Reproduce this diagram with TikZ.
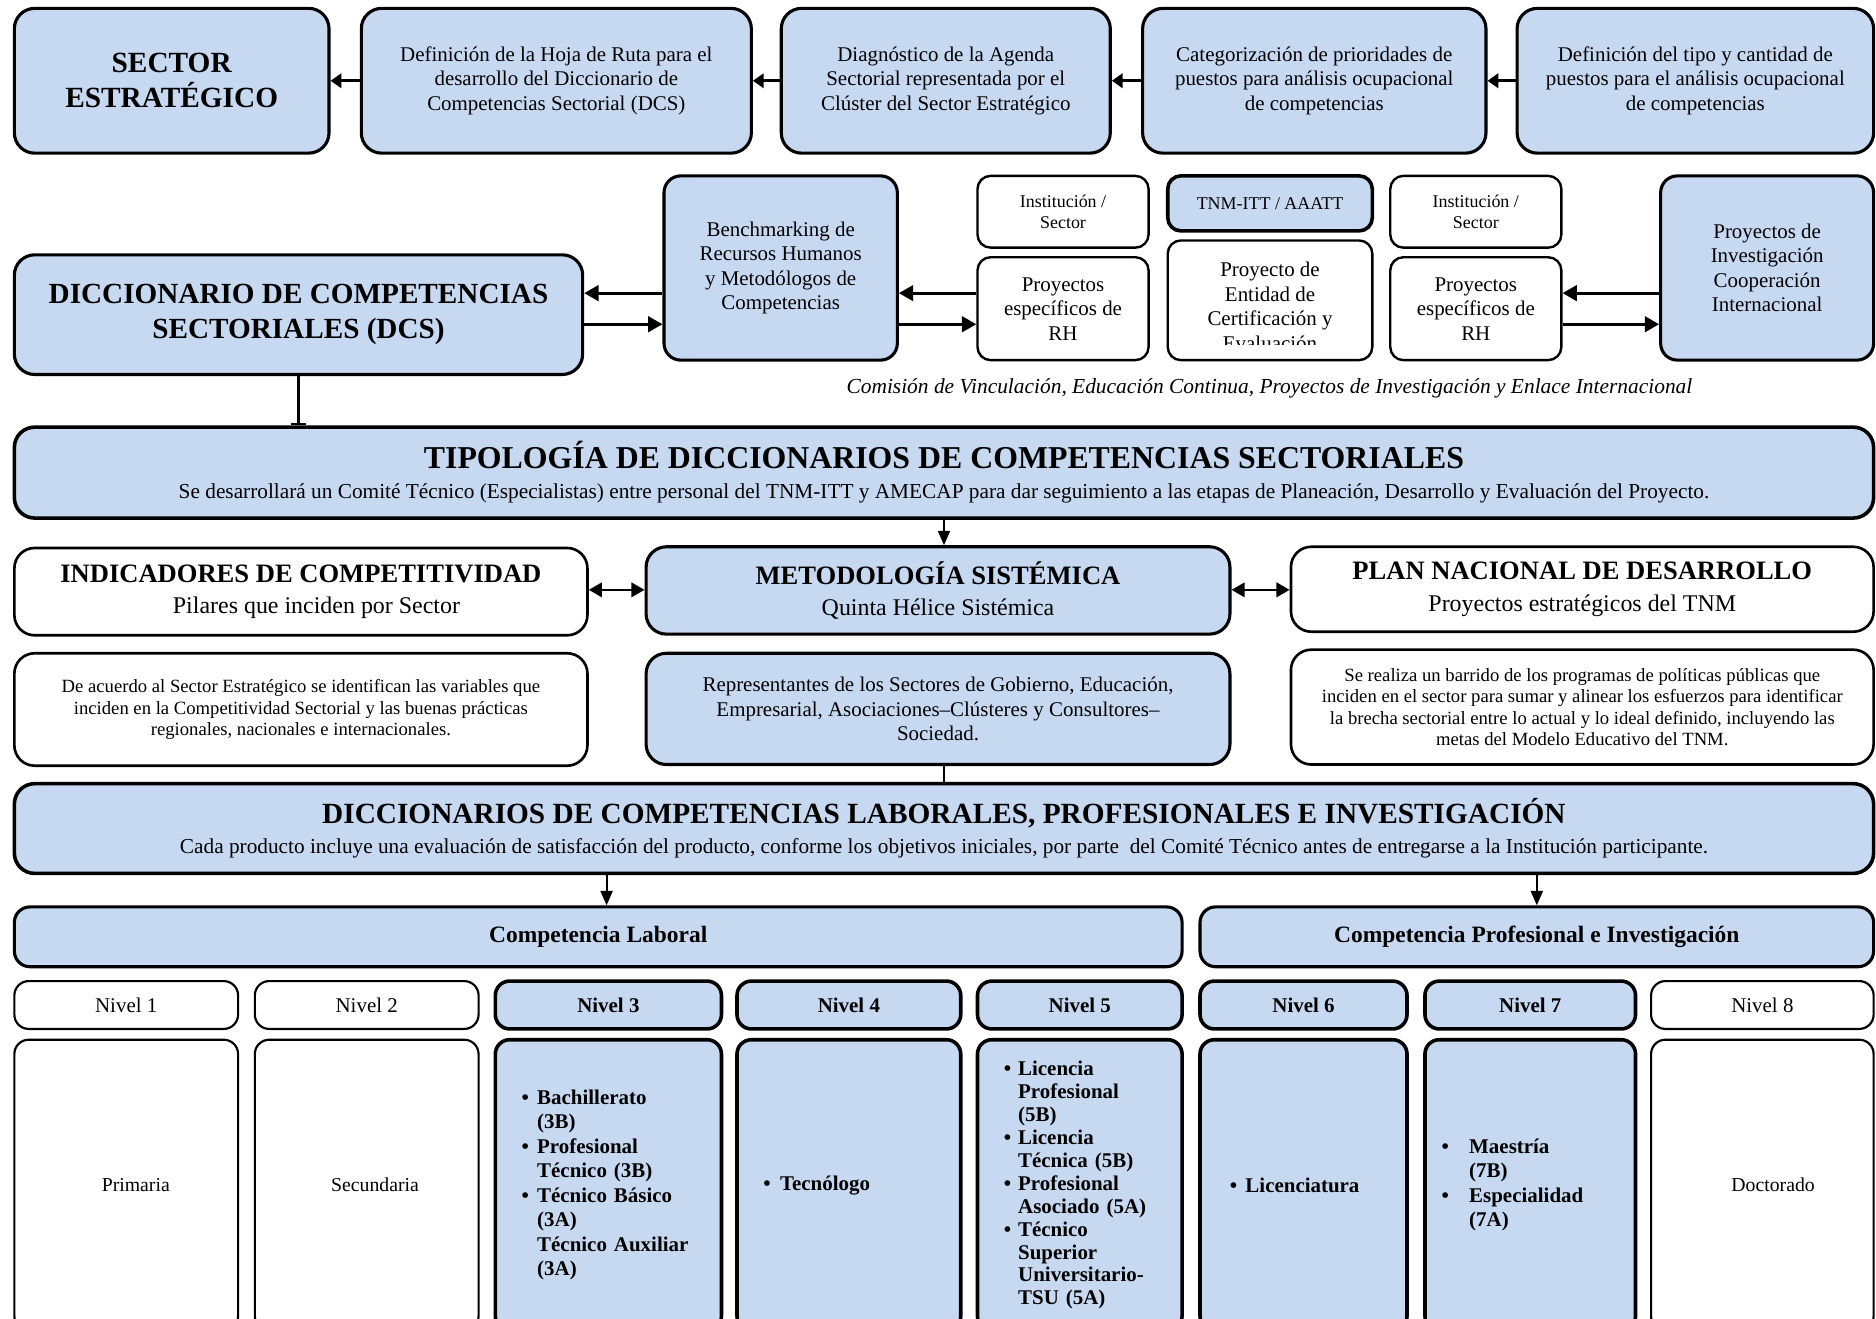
\documentclass[tikz,border=0pt]{standalone}
\usepackage{fontspec}
\setmainfont{Liberation Serif}
\usetikzlibrary{arrows.meta}
\definecolor{blu}{HTML}{C6D9F1}
\newcommand\myfs[2]{\fontsize{#1}{#2}\selectfont}
\newcommand\mkbox[7]{\node[#6, minimum width={#4-#2}, minimum height={#5-#3}] (#1) at ({(#2+#4)/2},{(#3+#5)/2}) {#7};}
\newcommand\mybl[1]{\makebox[#1][l]{\textbullet}}
\begin{document}
\begin{tikzpicture}[x=1pt,y=-1pt,
  bx/.style={draw=black, line width=2.6pt, rounded corners=17pt, fill=blu, align=center, inner sep=0pt},
  wbx/.style={bx, fill=white, line width=2.2pt},
  sbx/.style={bx, rounded corners=11pt},
  swbx/.style={wbx, rounded corners=11pt, line width=2pt},
  lvb/.style={bx, rounded corners=12pt, line width=3pt},
  lvw/.style={wbx, rounded corners=12pt, line width=1.8pt},
  body/.style={font=\myfs{17.5}{20.5}},
  bbody/.style={font=\myfs{17.5}{20.5}\bfseries},
  small/.style={font=\myfs{15}{17}},
  note/.style={font=\myfs{15.6}{18}},
  arrT/.style={line width=2.2pt, -{Triangle[length=9pt,width=12pt]}},
  arrB/.style={line width=2.4pt, -{Triangle[length=12pt,width=13pt]}},
  arrV/.style={line width=1.7pt, -{Triangle[length=12pt,width=10pt]}},
  dbl/.style={line width=2.2pt, {Triangle[length=11pt,width=12pt]}-{Triangle[length=11pt,width=12pt]}},
  plain/.style={line width=1.7pt}
]
\useasboundingbox (0,0) rectangle (1568,1102);
\clip (0,0) rectangle (1568,1102);
\fill[white] (0,0) rectangle (1568,1102);

% ---------- top row
\mkbox{sector}{12}{7}{275}{128}{bx, font=\myfs{24.5}{29}\bfseries}{SECTOR\\ESTRATÉGICO}
\mkbox{hoja}{302}{7}{628}{128}{bx, body}{Definición de la Hoja de Ruta para el\\desarrollo del Diccionario de\\Competencias Sectorial (DCS)}
\mkbox{diag}{653}{7}{928}{128}{bx, body}{Diagnóstico de la Agenda\\Sectorial representada por el\\Clúster del Sector Estratégico}
\mkbox{categ}{955}{7}{1242}{128}{bx, body}{Categorización de prioridades de\\puestos para análisis ocupacional\\de competencias}
\mkbox{defin}{1268}{7}{1566}{128}{bx, body}{Definición del tipo y cantidad de\\puestos para el análisis ocupacional\\de competencias}

\draw[arrT] (hoja) -- (sector);
\draw[arrT] (diag) -- (hoja);
\draw[arrT] (categ) -- (diag);
\draw[arrT] (defin) -- (categ);

% ---------- second row
\mkbox{dcs}{12}{213}{487}{313}{bx, font=\myfs{24.4}{29}\bfseries}{DICCIONARIO DE COMPETENCIAS\\SECTORIALES (DCS)}
\mkbox{bench}{555}{147}{750}{301}{bx, rounded corners=14pt, body}{Benchmarking de\\Recursos Humanos\\y Metodólogos de\\Competencias}
\mkbox{inst1}{817}{147}{960}{207}{swbx, small}{Institución /\\Sector}
\mkbox{rh1}{817}{215}{960}{301}{swbx, body}{Proyectos\\específicos de\\RH}
\mkbox{tnm}{976}{147}{1147}{193}{sbx, small, line width=3pt}{TNM-ITT / AAATT}
\mkbox{cert}{976}{201}{1147}{301}{swbx}{}
\begin{scope}
  \clip (978,203) rectangle (1145,288);
  \node[body, align=center, inner sep=0pt] (certtxt) at (1061.5,256) {Proyecto de\\Entidad de\\Certificación y\\Evaluación};
\end{scope}
\mkbox{inst2}{1162}{147}{1305}{207}{swbx, small}{Institución /\\Sector}
\mkbox{rh2}{1162}{215}{1305}{301}{swbx, body}{Proyectos\\específicos de\\RH}
\mkbox{pinv}{1388}{147}{1566}{301}{bx, rounded corners=14pt, body}{Proyectos de\\Investigación\\Cooperación\\Internacional}

\draw[arrB] (bench.west |- 0,245) -- (dcs.east |- 0,245);
\draw[arrB] (dcs.east |- 0,271) -- (bench.west |- 0,271);
\draw[arrB] (rh1.west |- 0,245) -- (bench.east |- 0,245);
\draw[arrB] (bench.east |- 0,271) -- (rh1.west |- 0,271);
\draw[arrB] (pinv.west |- 0,245) -- (rh2.east |- 0,245);
\draw[arrB] (rh2.east |- 0,271) -- (pinv.west |- 0,271);

\node[font=\myfs{17.9}{20}\itshape, inner sep=0pt] (comision) at (1061,325) {Comisión de Vinculación, Educación Continua, Proyectos de Investigación y Enlace Internacional};

% ---------- tipologia
\mkbox{tipo}{12}{357}{1566}{433}{bx, line width=3pt, font=\myfs{17.8}{25}}{{\myfs{26.6}{25}\bfseries TIPOLOGÍA DE DICCIONARIOS DE COMPETENCIAS SECTORIALES}\\Se desarrollará un Comité Técnico (Especialistas) entre personal del TNM-ITT y AMECAP para dar seguimiento a las etapas de Planeación, Desarrollo y Evaluación del Proyecto.}
\draw[plain, -{Bar[width=12pt, line width=1.7pt]}] (dcs.south) -- (dcs.south |- tipo.north);

% ---------- third row
\mkbox{indic}{12}{458}{491}{531}{wbx, font=\myfs{20}{26}}{{\myfs{22.2}{26}\bfseries INDICADORES DE COMPETITIVIDAD}\\\hspace*{26pt}Pilares que inciden por Sector}
\mkbox{metod}{540}{457}{1028}{530}{bx, font=\myfs{20}{26}}{{\myfs{22.2}{26}\bfseries METODOLOGÍA SISTÉMICA}\\Quinta Hélice Sistémica}
\mkbox{plan}{1079}{457}{1566}{528}{wbx, font=\myfs{20}{26}}{{\myfs{22.2}{26}\bfseries PLAN NACIONAL DE DESARROLLO}\\Proyectos estratégicos del TNM}
\draw[arrV] (tipo.south) -- (tipo.south |- metod.north);
\draw[dbl] (indic.east |- 0,493) -- (metod.west |- 0,493);
\draw[dbl] (metod.east |- 0,493) -- (plan.west |- 0,493);

% ---------- fourth row
\mkbox{acuerdo}{12}{546}{491}{640}{wbx, note}{De acuerdo al Sector Estratégico se identifican las variables que\\inciden en la Competitividad Sectorial y las buenas prácticas\\regionales, nacionales e internacionales.}
\mkbox{repres}{540}{546}{1028}{639}{bx, body}{Representantes de los Sectores de Gobierno, Educación,\\Empresarial, Asociaciones–Clústeres y Consultores–\\Sociedad.}
\mkbox{barrido}{1079}{543}{1566}{639}{wbx, note}{Se realiza un barrido de los programas de políticas públicas que\\inciden en el sector para sumar y alinear los esfuerzos para identificar\\la brecha sectorial entre lo actual y lo ideal definido, incluyendo las\\metas del Modelo Educativo del TNM.}

% ---------- diccionarios
\mkbox{dicc}{12}{655}{1566}{730}{bx, line width=3pt, font=\myfs{17.8}{25}}{{\myfs{24.5}{25}\bfseries DICCIONARIOS DE COMPETENCIAS LABORALES, PROFESIONALES E INVESTIGACIÓN}\\Cada producto incluye una evaluación de satisfacción del producto, conforme los objetivos iniciales, por parte\ \ del Comité Técnico antes de entregarse a la Institución participante.}
\draw[plain] (dicc.north |- repres.south) -- (dicc.north);

% ---------- competencias
\mkbox{complab}{12}{758}{988}{808}{bx, rounded corners=13pt, font=\myfs{19.6}{22}\bfseries}{Competencia Laboral}
\mkbox{comprof}{1003}{758}{1566}{808}{bx, rounded corners=13pt, font=\myfs{19.6}{22}\bfseries}{Competencia Profesional e Investigación}
\draw[arrV] ([xshift=7pt]complab.north |- dicc.south) -- ([xshift=7pt]complab.north);
\draw[arrV] (comprof.north |- dicc.south) -- (comprof.north);

% ---------- niveles
\mkbox{n1}{12}{820}{199}{860}{lvw, body}{Nivel 1}
\mkbox{n2}{213}{820}{400}{860}{lvw, body}{Nivel 2}
\mkbox{n3}{414}{820}{603}{860}{lvb, bbody}{Nivel 3}
\mkbox{n4}{616}{820}{803}{860}{lvb, bbody}{Nivel 4}
\mkbox{n5}{817}{820}{988}{860}{lvb, bbody}{Nivel 5}
\mkbox{n6}{1003}{820}{1176}{860}{lvb, bbody}{Nivel 6}
\mkbox{n7}{1191}{820}{1367}{860}{lvb, bbody}{Nivel 7}
\mkbox{n8}{1380}{820}{1566}{860}{lvw, body}{Nivel 8}

\mkbox{c1}{12}{869}{199}{1112}{lvw, font=\myfs{16.5}{20}}{\hspace*{16pt}Primaria}
\mkbox{c2}{213}{869}{400}{1112}{lvw, font=\myfs{16.5}{20}}{\hspace*{14pt}Secundaria}
\mkbox{c3}{414}{869}{603}{1112}{lvb, bbody, align=left, text width=145pt}{\mybl{13pt}Bachillerato\\\hspace*{13pt}(3B)\\\mybl{13pt}Profesional\\\hspace*{13pt}Técnico (3B)\\\mybl{13pt}Técnico Básico\\\hspace*{13pt}(3A)\\\hspace*{13pt}Técnico Auxiliar\\\hspace*{13pt}(3A)}
\mkbox{c4}{616}{869}{803}{1112}{lvb, bbody, align=left, text width=143pt}{\mybl{14pt}Tecnólogo}
\mkbox{c5}{817}{869}{988}{1112}{lvb, font=\myfs{17.5}{19.2}\bfseries, align=left, text width=127pt}{\mybl{12pt}Licencia\\\hspace*{12pt}Profesional\\\hspace*{12pt}(5B)\\\mybl{12pt}Licencia\\\hspace*{12pt}Técnica (5B)\\\mybl{12pt}Profesional\\\hspace*{12pt}Asociado (5A)\\\mybl{12pt}Técnico\\\hspace*{12pt}Superior\\\hspace*{12pt}Universitario-\\\hspace*{12pt}TSU (5A)}
\mkbox{c6}{1003}{869}{1176}{1112}{lvb, bbody, align=left, text width=123pt}{\mybl{13pt}Licenciatura}
\mkbox{c7}{1191}{869}{1367}{1112}{lvb, bbody, align=left, text width=148pt}{\mybl{23pt}Maestría\\\hspace*{23pt}(7B)\\\mybl{23pt}Especialidad\\\hspace*{23pt}(7A)}
\mkbox{c8}{1380}{869}{1566}{1112}{lvw, font=\myfs{16.5}{20}}{\hspace*{18pt}Doctorado}
\end{tikzpicture}
\end{document}
